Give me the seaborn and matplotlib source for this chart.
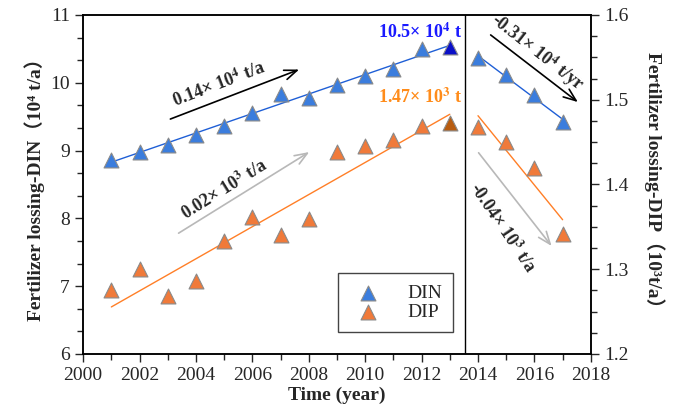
import numpy as np
import pandas as pd
import matplotlib
matplotlib.use('Agg')
import matplotlib.pyplot as plt
from matplotlib.ticker import MultipleLocator
import seaborn as sns

# data
years = list(range(2001, 2018))
din = [8.86, 8.98, 9.08, 9.23, 9.36, 9.56, 9.83, 9.78, 9.96,
       10.10, 10.20, 10.50, 10.53,
       10.36, 10.12, 9.82, 9.42]          # 10^4 t/a
dip = [1.275, 1.300, 1.268, 1.286, 1.333, 1.362, 1.340, 1.359, 1.438,
       1.445, 1.452, 1.469, 1.472,
       1.468, 1.450, 1.419, 1.342]        # 10^3 t/a
split_year = 2013.55

df = pd.DataFrame({'year': years, 'DIN': din, 'DIP': dip})
before = df[df['year'] <= 2013]
after = df[df['year'] >= 2014]
peak = df[df['year'] == 2013]

sns.set_style('ticks')
fams = ['Liberation Serif', 'Noto Sans CJK SC', 'DejaVu Serif']
plt.rcParams['font.family'] = fams
plt.rcParams['mathtext.fontset'] = 'stix'

c_din = '#3b7ddd'
c_dip = '#f07a3a'
c_din_line = '#1f5fd6'
c_dip_line = '#ff7f27'

fig, ax = plt.subplots(figsize=(6.76, 4.15), dpi=100)
fig.subplots_adjust(left=0.123, right=0.874, top=0.964, bottom=0.147)
ax2 = ax.twinx()

# regression lines
for part in (before, after):
    sns.regplot(data=part, x='year', y='DIN', ax=ax, scatter=False, ci=None,
                truncate=True, color=c_din_line, line_kws={'lw': 1})
    sns.regplot(data=part, x='year', y='DIP', ax=ax2, scatter=False, ci=None,
                truncate=True, color=c_dip_line, line_kws={'lw': 1})

# points
mk = dict(marker='^', s=115, edgecolor='#8a8a8a', linewidth=0.8, zorder=5)
sns.scatterplot(data=df[df['year'] != 2013], x='year', y='DIN', ax=ax,
                color=c_din, label='DIN', legend=False, **mk)
sns.scatterplot(data=peak, x='year', y='DIN', ax=ax, color='#0a10c8', legend=False, **mk)
sns.scatterplot(data=df[df['year'] != 2013], x='year', y='DIP', ax=ax2,
                color=c_dip, label='DIP', legend=False, **mk)
sns.scatterplot(data=peak, x='year', y='DIP', ax=ax2, color='#b85c10', legend=False, **mk)

ax.axvline(split_year, color='black', lw=1)

ax.set_xlim(2000, 2018)
ax.set_ylim(6, 11)
ax2.set_ylim(1.2, 1.6)
ax.xaxis.set_major_locator(MultipleLocator(2))
ax.xaxis.set_minor_locator(MultipleLocator(1))
ax.yaxis.set_major_locator(MultipleLocator(1))
ax.yaxis.set_minor_locator(MultipleLocator(1 / 3))
ax2.yaxis.set_major_locator(MultipleLocator(0.1))
ax2.yaxis.set_minor_locator(MultipleLocator(0.025))

for a in (ax, ax2):
    a.tick_params(which='major', direction='out', length=6, width=1, labelsize=14)
    a.tick_params(which='minor', direction='out', length=4, width=1)
    for s in a.spines.values():
        s.set_linewidth(1.1)
        s.set_color('black')
ax.tick_params(right=False, top=False, which='both')

ax.set_xlabel('Time (year)', fontsize=14, fontweight='bold', labelpad=2)
ax.set_ylabel('Fertilizer lossing-DIN（10⁴ t/a）', fontsize=14, family=fams,
              fontweight='bold', labelpad=4)
ax2.set_ylabel('Fertilizer lossing-DIP（10³t/a）', fontsize=14, family=fams,
               fontweight='bold', rotation=270, labelpad=26)

# trend arrows and labels
arrow = dict(arrowstyle='->,head_length=0.9,head_width=0.35', lw=1.2)
ax.annotate('', xy=(2007.75, 10.21), xytext=(2003.0, 9.45),
            arrowprops=dict(color='black', **arrow))
ax.annotate('', xy=(2008.1, 9.0), xytext=(2003.3, 7.76),
            arrowprops=dict(color='#b8b8b8', **arrow))
ax.annotate('', xy=(2017.62, 9.69), xytext=(2014.37, 10.73),
            arrowprops=dict(color='black', **arrow))
ax.annotate('', xy=(2016.67, 7.56), xytext=(2013.96, 9.0),
            arrowprops=dict(color='#b8b8b8', **arrow))

tk = dict(fontsize=13, fontweight='bold', ha='center', va='center')
ax.text(2004.8, 9.98, '0.14× 10$^{\\mathbf{4}}$ t/a', rotation=21, **tk)
ax.text(2005.0, 8.42, '0.02× 10$^{\\mathbf{3}}$ t/a', rotation=32, **tk)
ax.text(2016.1, 10.45, '-0.31× 10$^{\\mathbf{4}}$ t/yr', rotation=-38, **tk)
ax.text(2014.85, 7.86, '-0.04× 10$^{\\mathbf{3}}$ t/a', rotation=-56, **tk)

ax.text(2013.45, 10.66, '10.5× 10$^{\\mathbf{4}}$ t', color='#1a1aff', fontsize=13,
        fontweight='bold', ha='right', va='baseline')
ax.text(2013.45, 9.70, '1.47× 10$^{\\mathbf{3}}$ t', color='#ff8c1a', fontsize=13,
        fontweight='bold', ha='right', va='baseline')

h1, l1 = ax.get_legend_handles_labels()
h2, l2 = ax2.get_legend_handles_labels()
leg = ax2.legend(h1 + h2, l1 + l2, loc='lower left', bbox_to_anchor=(0.502, 0.065),
                 borderaxespad=0, fancybox=False, framealpha=1, edgecolor='#444444',
                 fontsize=14, handletextpad=1.0, borderpad=0.55, labelspacing=0.1,
                 handlelength=2.0)
leg.get_frame().set_linewidth(1)

fig.savefig('out.png', dpi=100)
